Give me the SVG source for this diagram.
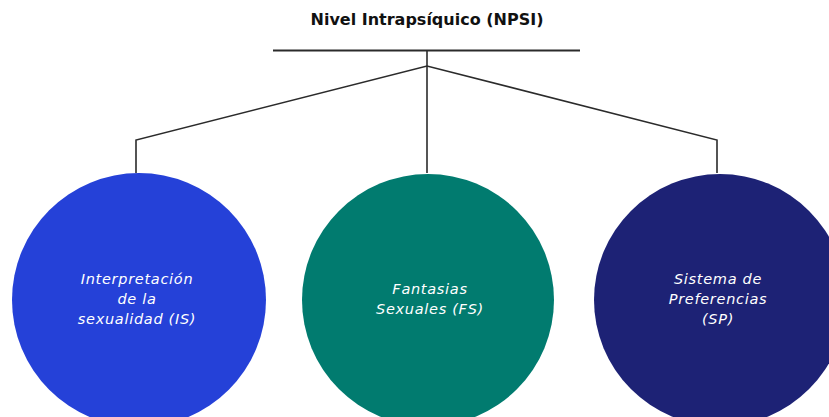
<svg xmlns="http://www.w3.org/2000/svg" width="829" height="417" viewBox="0 0 829 417">
<style>
.t{font-family:"DejaVu Sans","Liberation Sans",sans-serif;font-style:italic;font-size:14.5px;letter-spacing:0.7px;fill:#fff;text-anchor:middle}
.c{fill:none;stroke:#2b2b2b;stroke-width:1.6}
</style>
<rect width="829" height="417" fill="#fff"/>
<g id="title">
<text x="427" y="25" font-family="'DejaVu Sans','Liberation Sans',sans-serif" font-weight="bold" font-size="16" fill="#111" text-anchor="middle">Nivel Intrapsíquico (NPSI)</text>
<line x1="273" y1="50.5" x2="580" y2="50.5" stroke="#2b2b2b" stroke-width="2.2"/>
</g>
<g id="connectors">
<line class="c" x1="427" y1="50" x2="427" y2="173"/>
<polyline class="c" points="136,173 136,140 427,66 717,140 717,173"/>
</g>
<g id="node-is">
<circle cx="139" cy="300" r="127" fill="#2541D8"/>
<text class="t" x="137" y="284">Interpretación</text>
<text class="t" x="137" y="304">de la</text>
<text class="t" x="137" y="324">sexualidad (IS)</text>
</g>
<g id="node-fs">
<circle cx="428" cy="300" r="126" fill="#017B6F"/>
<text class="t" x="430" y="294">Fantasias</text>
<text class="t" x="430" y="314">Sexuales (FS)</text>
</g>
<g id="node-sp">
<circle cx="720" cy="300" r="126" fill="#1D2275"/>
<text class="t" x="718" y="284">Sistema de</text>
<text class="t" x="718" y="304">Preferencias</text>
<text class="t" x="718" y="324">(SP)</text>
</g>
</svg>
